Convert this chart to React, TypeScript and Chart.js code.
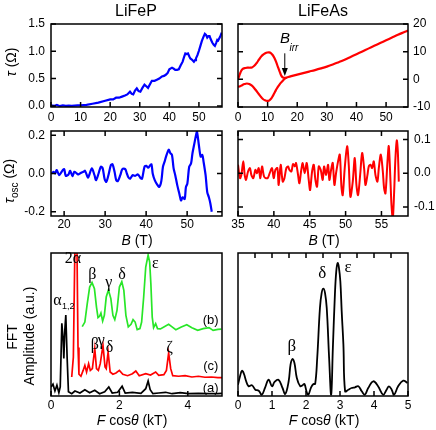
import React, { useEffect, useRef } from 'react';
import { Chart, registerables } from 'chart.js';

Chart.register(...registerables);

const W = 436;
const H = 430;
const SANS = '"Liberation Sans", Arial, Helvetica, sans-serif';
const SERIF = '"Liberation Serif", "Times New Roman", Times, serif';
const BLUE = 'rgb(0,0,255)';
const RED = 'rgb(255,0,0)';
const GREEN = 'rgb(40,230,40)';
const BLACK = '#000';

// ---------- LiFeP torque tau(B) ----------
const LIFEP_TAU_B = [
  0, 1, 2, 3, 4, 5, 6, 7, 8, 9,
  10, 12, 14, 16, 18, 20, 21, 22, 23, 24,
  25, 25.8, 26.7, 27.3, 27.8, 28.4, 29.0, 29.6, 30.2, 30.9,
  31.6, 32.2, 32.8, 33.5, 34.1, 35, 35.8, 36.6, 37.5, 38.2,
  38.8, 39.4, 40, 40.9, 41.5, 42, 42.6, 43.2, 43.8, 44.5,
  45, 45.4, 45.8, 46.3, 46.8, 47.1, 47.6, 48.3, 48.7, 49,
  49.5, 50, 50.5, 51, 51.5, 52, 52.4, 52.8, 53.2, 53.6,
  54, 54.5, 55, 55.4, 55.8, 56.2, 56.5, 56.8, 57.2, 57.7,
];
const LIFEP_TAU = [
  0.01, 0.0, 0.02, -0.005, 0.01, 0.0, 0.005, 0.0, 0.005, 0.01,
  0.01, 0.02, 0.04, 0.06, 0.09, 0.12, 0.12, 0.15, 0.15, 0.17,
  0.19, 0.21, 0.26, 0.22, 0.21, 0.28, 0.32, 0.27, 0.26, 0.33,
  0.39, 0.36, 0.33, 0.40, 0.46, 0.46, 0.48, 0.50, 0.54, 0.55,
  0.57, 0.60, 0.67, 0.70, 0.68, 0.66, 0.66, 0.67, 0.74, 0.81,
  0.90, 0.96, 0.95, 0.96, 0.90, 0.87, 0.85, 0.81, 0.84, 0.87,
  0.93, 1.01, 1.10, 1.19, 1.26, 1.32, 1.30, 1.25, 1.28, 1.28,
  1.22, 1.16, 1.12, 1.10, 1.15, 1.21, 1.20, 1.23, 1.27, 1.34,
];

// ---------- LiFeAs torque tau(B): hysteresis branches + reversible part ----------
const LIFEAS_UP_B = [0, 0.4, 0.8, 1.3, 1.8, 2.5, 3.2, 4.0, 4.7, 5.5, 6.3, 7.0, 7.8, 8.5, 9.2, 9.9, 10.5, 11.1, 11.7, 12.3, 12.9, 13.5, 14.0, 14.5, 15.0, 15.5, 16.0];
const LIFEAS_UP_TAU = [0, 1.2, 2.4, 3.4, 3.9, 4.1, 4.2, 4.2, 4.3, 4.9, 5.9, 7.0, 8.2, 8.9, 9.4, 9.7, 9.75, 9.5, 8.8, 7.7, 6.2, 4.4, 3.0, 1.6, 0.8, 0.55, 0.5];
const LIFEAS_DOWN_B = [0, 0.7, 1.4, 2.2, 3.0, 3.8, 4.7, 5.5, 6.3, 7.0, 7.8, 8.5, 9.2, 9.8, 10.4, 11.0, 11.6, 12.2, 12.8, 13.4, 14.0, 14.6, 15.2, 15.8, 16.3];
const LIFEAS_DOWN_TAU = [-2.7, -2.5, -2.1, -1.7, -1.5, -1.7, -2.3, -3.2, -4.3, -5.3, -6.4, -7.2, -7.6, -7.8, -7.7, -7.2, -6.3, -5.1, -3.9, -2.8, -1.9, -1.1, -0.4, 0.2, 0.6];
const LIFEAS_MAIN_B = [16, 17, 18, 20, 22, 24, 26, 28, 30, 32, 34, 36, 38, 40, 42, 44, 46, 48, 50, 52, 54, 56, 57.4];
const LIFEAS_MAIN_TAU = [0.5, 0.85, 1.15, 1.7, 2.25, 2.8, 3.35, 3.95, 4.6, 5.35, 6.2, 7.1, 8.1, 9.1, 10.1, 11.1, 12.1, 13.1, 14.1, 15.1, 16.1, 17.0, 17.6];
const B_IRR = 15.8;

// ---------- LiFeP oscillatory torque ----------
const LIFEP_OSC_B = [
  17.0, 17.39, 17.8, 18.2, 18.8, 19.4, 20.0, 20.4, 21.06, 21.47,
  22.04, 22.5, 23.1, 23.5, 24.16, 24.7, 25.1, 25.8, 26.1, 26.76,
  27.41, 27.8, 28.4, 28.96, 29.4, 29.86, 30.27, 30.8, 31.4, 31.8,
  32.3, 32.7, 33.1, 33.7, 34.2, 34.9, 35.3, 35.7, 36.1, 36.7,
  37.3, 38.0, 38.6, 39.0, 39.6, 40.05, 40.5, 40.9, 41.3, 41.6,
  42.1, 42.7, 43.2, 43.7, 44.1, 44.5, 44.85, 45.5, 45.9, 46.3,
  46.7, 47.1, 47.6, 48.1, 48.5, 48.9, 49.4, 49.7, 50.05, 50.5,
  50.96, 51.3, 51.7, 52.2, 52.4, 52.85, 53.3, 53.7, 54.0, 54.5,
  54.9, 55.3, 55.65, 56.0,
];
const LIFEP_OSC = [
  0, 0.009, 0, 0.018, -0.009, 0.009, 0.023, -0.012, -0.005, 0.014,
  -0.014, 0.009, 0, -0.005, 0.004, 0.009, 0.014, -0.021, -0.009, 0.027,
  -0.009, -0.035, 0, 0.035, 0.027, -0.027, -0.044, -0.009, 0.044, 0.048,
  0.009, -0.035, -0.04, -0.009, 0.023, 0.023, 0, -0.021, -0.027, -0.009,
  -0.012, -0.005, -0.023, -0.027, 0.035, 0.04, 0.03, 0.04, 0.048, 0,
  -0.035, -0.058, -0.07, -0.04, 0.035, 0.062, 0.088, 0.124, 0.106, 0.097,
  0.027, -0.009, -0.062, -0.106, -0.141, -0.124, -0.133, -0.071, -0.053, 0.035,
  0.053, 0.106, 0.15, 0.204, 0.218, 0.15, 0.088, 0.097, 0.062, -0.009,
  -0.097, -0.124, -0.155, -0.2,
];

// ---------- LiFeAs oscillatory torque ----------
const LIFEAS_OSC_B = [
  35.00, 35.28, 35.47, 35.74, 35.93, 36.12, 36.40, 36.67, 36.86, 37.14,
  37.42, 37.65, 37.88, 38.12, 38.35, 38.63, 38.91, 39.19, 39.42, 39.74,
  39.98, 40.21, 40.49, 40.67, 40.95, 41.23, 41.47, 41.74, 41.98, 42.16,
  42.44, 42.67, 42.91, 43.09, 43.37, 43.56, 43.79, 44.02, 44.30, 44.58,
  44.86, 45.05, 45.33, 45.56, 45.79, 46.02, 46.26, 46.53, 46.81, 47.00,
  47.28, 47.56, 47.74, 47.98, 48.21, 48.44, 48.67, 48.95, 49.19, 49.42,
  49.60, 49.88, 50.21, 50.44, 50.67, 51.00, 51.28, 51.51, 51.74, 52.07,
  52.30, 52.58, 52.77, 53.05, 53.23, 53.47, 53.70, 53.93, 54.16, 54.44,
  54.63, 54.91, 55.19, 55.37, 55.56, 55.84, 56.02, 56.26, 56.40, 56.58,
  56.77, 56.95, 57.14, 57.28, 57.42,
];
const LIFEAS_OSC = [
  0.025, -0.015, -0.005, 0.035, -0.005, -0.02, 0.005, 0.015, -0.005, -0.015,
  0.01, 0, 0.015, -0.015, 0.02, -0.01, -0.015, -0.013, 0, 0.015,
  -0.015, 0.01, 0.015, -0.035, 0.025, -0.025, -0.015, 0.015, 0.02, 0.01,
  0.005, 0.027, 0.02, 0.03, -0.005, -0.03, 0.005, 0.03, 0, 0.03,
  -0.02, -0.05, 0.005, 0.025, -0.02, -0.04, 0.02, 0.01, -0.02, 0.02,
  -0.005, 0.025, -0.02, 0.01, 0.03, -0.035, 0, 0.035, 0.055, -0.04,
  -0.065, 0.015, 0.08, 0.025, -0.07, -0.025, 0.045, -0.035, -0.065, 0.005,
  0.06, 0.015, -0.035, -0.005, 0.02, 0.025, 0.015, 0.035, -0.005, -0.025,
  0.015, 0.055, 0.005, -0.045, -0.06, 0.035, 0.08, -0.025, -0.095, -0.135,
  -0.055, 0.045, 0.097, 0.065, -0.025,
];

// ---------- LiFeP FFT spectra (a) black, (c) red, (b) green; offsets included ----------
const FFT_A_F = [0, 0.058, 0.115, 0.173, 0.23, 0.27, 0.317, 0.356, 0.375, 0.404, 0.433, 0.471, 0.51, 0.606, 0.70, 0.846, 0.99, 1.13, 1.28, 1.42, 1.57, 1.69, 1.79, 1.95, 2.08, 2.17, 2.38, 2.63, 2.77, 2.84, 2.90, 2.98, 3.15, 3.35, 3.54, 3.78, 4.02, 4.31, 4.6, 4.88, 5.0];
const FFT_A = [6.3, 8.2, 3.5, 7.5, 2.3, 6.3, 50.8, 38.9, 26.3, 45.9, 56.6, 27.3, 3.0, 1.6, 3.5, 2.1, 4.4, 2.3, 4.0, 1.6, 3.0, 6.3, 2.1, 2.6, 6.8, 2.1, 2.6, 1.9, 5.1, 10.5, 4.4, 1.6, 2.1, 2.6, 1.6, 2.3, 1.6, 1.9, 1.6, 1.6, 1.8];
const FFT_C_F = [0.606, 0.654, 0.692, 0.73, 0.76, 0.79, 0.817, 0.875, 0.94, 0.99, 1.04, 1.10, 1.15, 1.21, 1.28, 1.33, 1.385, 1.44, 1.52, 1.58, 1.615, 1.67, 1.73, 1.81, 1.90, 2.0, 2.10, 2.24, 2.38, 2.48, 2.58, 2.77, 2.91, 3.06, 3.15, 3.30, 3.375, 3.44, 3.5, 3.56, 3.73, 3.92, 4.12, 4.31, 4.5, 4.69, 4.88, 5.0];
const FFT_C = [13.3, 27.3, 92.5, 130, 102, 34, 15.2, 13.8, 17.9, 21.4, 16.8, 22.6, 17.9, 19.1, 33.1, 19.1, 17.9, 22.6, 35.4, 20.3, 19.1, 30.8, 16.8, 15.2, 16.1, 17.9, 15.2, 14.2, 15.6, 17.5, 14.2, 15.6, 14.7, 16.8, 14.5, 14.9, 17.9, 30.1, 19.1, 14.2, 13.8, 14.2, 13.3, 13.8, 13.1, 13.3, 12.8, 12.8];
const FFT_B_F = [0.913, 0.99, 1.06, 1.13, 1.20, 1.27, 1.33, 1.375, 1.42, 1.46, 1.51, 1.56, 1.615, 1.68, 1.75, 1.81, 1.865, 1.93, 2.0, 2.07, 2.13, 2.19, 2.26, 2.34, 2.40, 2.46, 2.52, 2.60, 2.65, 2.71, 2.77, 2.84, 2.885, 2.92, 2.96, 3.0, 3.06, 3.115, 3.20, 3.30, 3.44, 3.54, 3.65, 3.81, 3.97, 4.12, 4.29, 4.45, 4.62, 4.74, 4.88, 4.98];
const FFT_B = [48.5, 51.7, 64.6, 76.2, 79.3, 75.1, 62.2, 54.8, 55.7, 58.0, 52.4, 56.4, 69.2, 74.1, 68.1, 56.4, 53.4, 59.9, 76.2, 80.0, 73.9, 56.4, 48.3, 50.1, 53.4, 51.7, 46.4, 47.1, 51.7, 69.2, 90.2, 98.6, 93.7, 78.6, 55.2, 47.8, 50.6, 47.1, 46.9, 48.3, 50.1, 48.3, 46.4, 48.3, 49.9, 47.8, 45.9, 47.1, 47.8, 45.9, 46.6, 46.8];

// ---------- LiFeAs FFT spectrum ----------
const FFT_AS_F = [0, 0.06, 0.117, 0.176, 0.235, 0.31, 0.41, 0.51, 0.61, 0.70, 0.80, 0.90, 1.0, 1.075, 1.19, 1.31, 1.39, 1.49, 1.545, 1.60, 1.66, 1.73, 1.83, 1.90, 1.955, 2.02, 2.07, 2.15, 2.22, 2.27, 2.33, 2.41, 2.46, 2.51, 2.56, 2.61, 2.68, 2.74, 2.79, 2.85, 2.89, 2.93, 2.97, 3.01, 3.05, 3.10, 3.15, 3.245, 3.34, 3.44, 3.54, 3.64, 3.73, 3.83, 3.98, 4.12, 4.27, 4.37, 4.44, 4.52, 4.59, 4.71, 4.86, 4.985];
const FFT_AS = [7.9, 13.8, 17.7, 15.4, 10.7, 6.8, 7.5, 4.4, 3.7, 0.9, 6.1, 11.4, 6.8, 9.8, 11.4, 5.6, 1.4, 10.3, 21.9, 25.9, 23.1, 12.6, 6.8, 7.5, 8.4, 2.8, 0.9, 6.1, 8.4, 8.4, 26.6, 61.5, 72.0, 75.1, 72.0, 61.5, 26.6, 0.9, 33.6, 70.9, 87.2, 93.0, 89.5, 80.2, 59.2, 35.9, 3.3, 4.4, 5.6, 6.1, 6.8, 3.3, 0.9, 5.6, 10.3, 6.8, 0.9, 4.4, 6.8, 4.4, 0.9, 6.8, 10.7, 9.1];

// ---------- tick values ----------
const TAU_B_TICKS = [0, 10, 20, 30, 40, 50];
const LIFEP_TAU_TICKS = [0, 0.5, 1.0, 1.5];
const LIFEAS_TAU_TICKS = [-10, 0, 10, 20];
const LIFEP_OSC_B_TICKS = [20, 30, 40, 50];
const LIFEP_OSC_TICKS = [-0.2, 0, 0.2];
const LIFEAS_OSC_B_TICKS = [35, 40, 45, 50, 55];
const LIFEAS_OSC_TICKS = [-0.1, 0, 0.1];
const LIFEP_F_TICKS = [0, 2, 4];
const LIFEAS_F_TICKS = [0, 1, 2, 3, 4, 5];
const LIFEAS_F_MINOR = [0.5, 1, 1.5, 2, 2.5, 3, 3.5, 4, 4.5];

type Series = { xs: number[]; ys: number[]; color: string; width: number; tension: number };
type Note = { x: number; y: number; text: string; font: string; align?: CanvasTextAlign };
type Marks = { bottom?: number[]; top?: number[]; left?: number[]; right?: number[] };
type PanelSpec = {
  box: [number, number, number, number];
  xMin: number; xMax: number; yMin: number; yMax: number;
  xTicks: number[]; xPad: number; xFmt?: (v: number) => string;
  yTicks: number[]; ySide: 'left' | 'right' | null; yPad: number; yFmt?: (v: number) => string;
  marks: Marks;
  series: Series[];
  notes?: Note[];
  arrow?: { x: number; y0: number; y1: number };
};

const X_AXIS_H = 20;
const Y_AXIS_W = 44;
const TICK_LEN = 5;

const f1 = (v: number) => v.toFixed(1);
const gfont = (size: number) => `${size}px ${SERIF}`;

const PANELS: PanelSpec[] = [
  {
    box: [51, 24, 222, 107], xMin: 0, xMax: 57.8, yMin: -0.02, yMax: 1.5,
    xTicks: TAU_B_TICKS, xPad: 3, yTicks: LIFEP_TAU_TICKS, ySide: 'left', yPad: 6, yFmt: f1,
    marks: { bottom: TAU_B_TICKS, left: LIFEP_TAU_TICKS, right: LIFEP_TAU_TICKS },
    series: [{ xs: LIFEP_TAU_B, ys: LIFEP_TAU, color: BLUE, width: 2.2, tension: 0 }],
  },
  {
    box: [238, 24, 408, 107], xMin: 0, xMax: 57.4, yMin: -10, yMax: 20,
    xTicks: TAU_B_TICKS, xPad: 3, yTicks: LIFEAS_TAU_TICKS, ySide: 'right', yPad: 5,
    marks: { bottom: TAU_B_TICKS, left: LIFEAS_TAU_TICKS, right: LIFEAS_TAU_TICKS },
    series: [
      { xs: LIFEAS_UP_B, ys: LIFEAS_UP_TAU, color: RED, width: 2.2, tension: 0.4 },
      { xs: LIFEAS_DOWN_B, ys: LIFEAS_DOWN_TAU, color: RED, width: 2.2, tension: 0.4 },
      { xs: LIFEAS_MAIN_B, ys: LIFEAS_MAIN_TAU, color: RED, width: 2.2, tension: 0.4 },
    ],
    notes: [
      { x: 15.9, y: 14.6, text: 'B', font: `italic 15px ${SANS}` },
      { x: 17.4, y: 11.3, text: 'irr', font: `italic 10px ${SANS}`, align: 'left' },
    ],
    arrow: { x: B_IRR, y0: 9.4, y1: 1.2 },
  },
  {
    box: [51, 131, 222, 216], xMin: 16.8, xMax: 58.5, yMin: -0.222, yMax: 0.222,
    xTicks: LIFEP_OSC_B_TICKS, xPad: 1, yTicks: LIFEP_OSC_TICKS, ySide: 'left', yPad: 6, yFmt: f1,
    marks: { bottom: LIFEP_OSC_B_TICKS, top: LIFEP_OSC_B_TICKS, left: LIFEP_OSC_TICKS, right: LIFEP_OSC_TICKS },
    series: [{ xs: LIFEP_OSC_B, ys: LIFEP_OSC, color: BLUE, width: 2.2, tension: 0.3 }],
  },
  {
    box: [238, 131, 408, 216], xMin: 35, xMax: 58.7, yMin: -0.127, yMax: 0.125,
    xTicks: LIFEAS_OSC_B_TICKS, xPad: 1, yTicks: LIFEAS_OSC_TICKS, ySide: 'right', yPad: 6, yFmt: f1,
    marks: { bottom: LIFEAS_OSC_B_TICKS, top: LIFEAS_OSC_B_TICKS, left: LIFEAS_OSC_TICKS, right: LIFEAS_OSC_TICKS },
    series: [{ xs: LIFEAS_OSC_B, ys: LIFEAS_OSC, color: RED, width: 2, tension: 0.3 }],
  },
  {
    box: [51, 253, 222, 396], xMin: 0, xMax: 5, yMin: 0, yMax: 100,
    xTicks: LIFEP_F_TICKS, xPad: 2, yTicks: [], ySide: null, yPad: 0,
    marks: { bottom: LIFEP_F_TICKS },
    series: [
      { xs: FFT_A_F, ys: FFT_A, color: BLACK, width: 1.7, tension: 0 },
      { xs: FFT_C_F, ys: FFT_C, color: RED, width: 1.7, tension: 0 },
      { xs: FFT_B_F, ys: FFT_B, color: GREEN, width: 1.7, tension: 0 },
    ],
    notes: [
      { x: 0.19, y: 66.4, text: 'α', font: gfont(16) },
      { x: 0.32, y: 62.6, text: '1,2', font: `9px ${SANS}`, align: 'left' },
      { x: 0.64, y: 95.8, text: '2α', font: gfont(16) },
      { x: 1.21, y: 84.6, text: 'β', font: gfont(16) },
      { x: 1.69, y: 79.0, text: 'γ', font: gfont(16) },
      { x: 2.08, y: 84.8, text: 'δ', font: gfont(16) },
      { x: 3.05, y: 92.3, text: 'ε', font: gfont(16) },
      { x: 1.28, y: 35.7, text: 'β', font: gfont(16) },
      { x: 1.47, y: 38.5, text: 'γ', font: gfont(16) },
      { x: 1.71, y: 33.9, text: 'δ', font: gfont(16) },
      { x: 3.47, y: 33.9, text: 'ζ', font: gfont(16) },
      { x: 4.67, y: 52.6, text: '(b)', font: `13px ${SANS}` },
      { x: 4.67, y: 21.0, text: '(c)', font: `13px ${SANS}` },
      { x: 4.67, y: 5.6, text: '(a)', font: `13px ${SANS}` },
    ],
  },
  {
    box: [238, 253, 408, 396], xMin: 0, xMax: 5, yMin: 0, yMax: 100,
    xTicks: LIFEAS_F_TICKS, xPad: 2, yTicks: [], ySide: null, yPad: 0,
    marks: { bottom: LIFEAS_F_TICKS, top: LIFEAS_F_MINOR },
    series: [{ xs: FFT_AS_F, ys: FFT_AS, color: BLACK, width: 1.8, tension: 0.4 }],
    notes: [
      { x: 1.58, y: 34.3, text: 'β', font: gfont(17) },
      { x: 2.48, y: 85.3, text: 'δ', font: gfont(17) },
      { x: 3.24, y: 89.5, text: 'ε', font: gfont(17) },
    ],
  },
];

function zip(xs: number[], ys: number[]) {
  const n = Math.min(xs.length, ys.length);
  const out: { x: number; y: number }[] = [];
  for (let i = 0; i < n; i++) out.push({ x: xs[i], y: ys[i] });
  return out;
}

function buildConfig(p: PanelSpec): any {
  const [L, T, R, B] = p.box;
  const showY = !!p.ySide;
  const padding = {
    left: p.ySide === 'left' ? L - Y_AXIS_W : L,
    right: p.ySide === 'right' ? W - R - Y_AXIS_W : W - R,
    top: T,
    bottom: H - B - X_AXIS_H,
  };
  const tickFont = { family: SANS, size: 12 };
  const frame = {
    id: 'frameTicks',
    afterDatasetsDraw(chart: any) {
      const { ctx, chartArea: a, scales } = chart;
      const xs = scales.x;
      const ys = scales.y;
      ctx.save();
      ctx.strokeStyle = '#000';
      ctx.lineWidth = 1.5;
      ctx.strokeRect(a.left, a.top, a.right - a.left, a.bottom - a.top);
      ctx.beginPath();
      (p.marks.bottom || []).forEach((v) => { const x = xs.getPixelForValue(v); ctx.moveTo(x, a.bottom); ctx.lineTo(x, a.bottom - TICK_LEN); });
      (p.marks.top || []).forEach((v) => { const x = xs.getPixelForValue(v); ctx.moveTo(x, a.top); ctx.lineTo(x, a.top + TICK_LEN); });
      (p.marks.left || []).forEach((v) => { const y = ys.getPixelForValue(v); ctx.moveTo(a.left, y); ctx.lineTo(a.left + TICK_LEN, y); });
      (p.marks.right || []).forEach((v) => { const y = ys.getPixelForValue(v); ctx.moveTo(a.right, y); ctx.lineTo(a.right - TICK_LEN, y); });
      ctx.stroke();
      if (p.arrow) {
        const x = xs.getPixelForValue(p.arrow.x);
        const y0 = ys.getPixelForValue(p.arrow.y0);
        const y1 = ys.getPixelForValue(p.arrow.y1);
        ctx.lineWidth = 1;
        ctx.beginPath();
        ctx.moveTo(x, y0);
        ctx.lineTo(x, y1 - 6);
        ctx.stroke();
        ctx.fillStyle = '#000';
        ctx.beginPath();
        ctx.moveTo(x - 3, y1 - 8);
        ctx.lineTo(x + 3, y1 - 8);
        ctx.lineTo(x, y1);
        ctx.closePath();
        ctx.fill();
      }
      (p.notes || []).forEach((n) => {
        ctx.font = n.font;
        ctx.fillStyle = '#000';
        ctx.textAlign = n.align || 'center';
        ctx.textBaseline = 'middle';
        ctx.fillText(n.text, xs.getPixelForValue(n.x), ys.getPixelForValue(n.y));
      });
      ctx.restore();
    },
  };
  return {
    type: 'line',
    data: {
      datasets: p.series.map((s) => ({
        data: zip(s.xs, s.ys),
        borderColor: s.color,
        backgroundColor: s.color,
        borderWidth: s.width,
        tension: s.tension,
        pointRadius: 0,
        fill: false,
        clip: 0,
      })),
    },
    options: {
      animation: false,
      responsive: false,
      maintainAspectRatio: false,
      events: [],
      layout: { padding },
      plugins: { legend: { display: false }, tooltip: { enabled: false }, title: { display: false } },
      scales: {
        x: {
          type: 'linear', position: 'bottom', min: p.xMin, max: p.xMax, display: true,
          grid: { display: false, drawTicks: false }, border: { display: false },
          ticks: {
            font: tickFont, color: '#000', padding: p.xPad, autoSkip: false, maxRotation: 0, minRotation: 0,
            callback: (v: number) => (p.xFmt ? p.xFmt(v) : String(v)),
          },
          afterBuildTicks: (s: any) => { s.ticks = p.xTicks.map((v) => ({ value: v })); },
          afterFit: (s: any) => { s.height = X_AXIS_H; s.paddingLeft = 0; s.paddingRight = 0; s.paddingTop = 0; s.paddingBottom = 0; },
        },
        y: {
          type: 'linear', position: p.ySide || 'left', min: p.yMin, max: p.yMax, display: showY,
          grid: { display: false, drawTicks: false }, border: { display: false },
          ticks: {
            font: tickFont, color: '#000', padding: p.yPad, autoSkip: false,
            callback: (v: number) => (p.yFmt ? p.yFmt(v) : String(v)),
          },
          afterBuildTicks: (s: any) => { s.ticks = p.yTicks.map((v) => ({ value: v })); },
          afterFit: (s: any) => { s.width = showY ? Y_AXIS_W : 0; s.paddingLeft = 0; s.paddingRight = 0; s.paddingTop = 0; s.paddingBottom = 0; },
        },
      },
    },
    plugins: [frame],
  };
}

function PanelChart({ spec }: { spec: PanelSpec }) {
  const ref = useRef<HTMLCanvasElement | null>(null);
  useEffect(() => {
    if (!ref.current) return;
    const chart = new Chart(ref.current, buildConfig(spec));
    return () => chart.destroy();
  }, [spec]);
  return (
    <canvas
      ref={ref}
      width={W}
      height={H}
      style={{ position: 'absolute', left: 0, top: 0, width: W, height: H, pointerEvents: 'none' }}
    />
  );
}

function Label({ x, y, size, rotate, children }: { x: number; y: number; size: number; rotate?: boolean; children: React.ReactNode }) {
  return (
    <div
      style={{
        position: 'absolute', left: x, top: y, fontSize: size, lineHeight: 1, whiteSpace: 'nowrap',
        transform: `translate(-50%, -50%)${rotate ? ' rotate(-90deg)' : ''}`,
      }}
    >
      {children}
    </div>
  );
}

export default function App() {
  return (
    <div style={{ position: 'absolute', left: 0, top: 0, width: W, height: H, background: '#fff', fontFamily: SANS, color: '#000', overflow: 'hidden' }}>
      {PANELS.map((p, i) => <PanelChart key={i} spec={p} />)}
      <Label x={136} y={11} size={16}>LiFeP</Label>
      <Label x={323} y={11} size={16}>LiFeAs</Label>
      <Label x={11} y={62} size={14} rotate><i>τ</i> (Ω)</Label>
      <Label x={11} y={181} size={14} rotate><i>τ</i><sub style={{ fontSize: 10 }}>osc</sub> (Ω)</Label>
      <Label x={137} y={240} size={14}><i>B</i> (T)</Label>
      <Label x={324} y={240} size={14}><i>B</i> (T)</Label>
      <Label x={12} y={337} size={14} rotate>FFT</Label>
      <Label x={29} y={336} size={14} rotate>Amplitude (a.u.)</Label>
      <Label x={132} y={420} size={14}><i>F</i> cos<i>θ</i> (kT)</Label>
      <Label x={324} y={420} size={14}><i>F</i> cos<i>θ</i> (kT)</Label>
    </div>
  );
}
